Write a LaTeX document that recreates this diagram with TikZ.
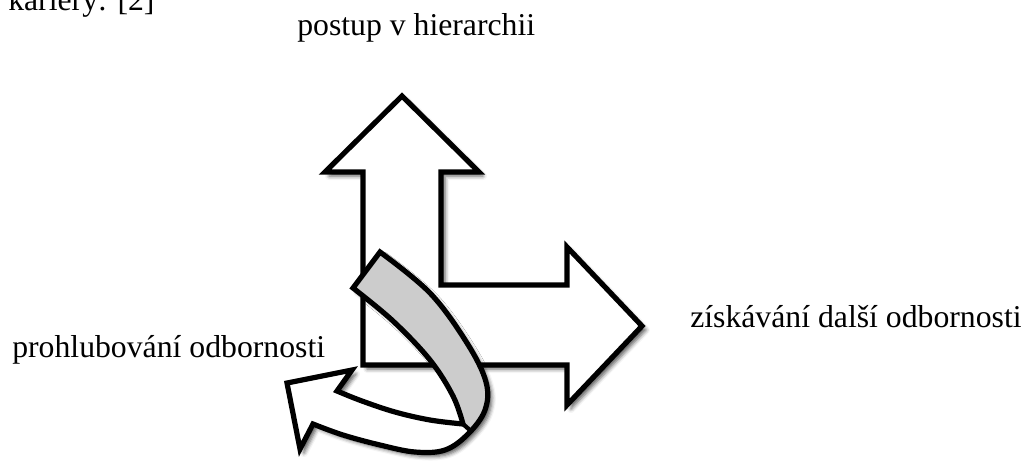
\documentclass[tikz,border=0pt]{standalone}
\usepackage{fontspec}
\setmainfont{Liberation Serif}
\usetikzlibrary{shadows.blur}
\definecolor{bandgray}{HTML}{CCCCCC}
\tikzset{
  shapeline/.style={draw=black, line width=3.9pt, line join=miter, miter limit=10},
  shadowed/.style={blur shadow={shadow xshift=3pt, shadow yshift=-3pt, shadow blur radius=3pt, shadow opacity=65}},
  lbl/.style={inner sep=0pt, anchor=base west, font=\fontsize{23.8}{28}\selectfont},
}
\begin{document}
\begin{tikzpicture}[x=0.75pt,y=-0.75pt]
\useasboundingbox (0,0) rectangle (1027,461);
\clip (0,0) rectangle (1027,461);
% text
\node[lbl] (top) at (8,10) {kariéry: [2]};
\node[lbl] (up) at (297,35) {postup v hierarchii};
\node[lbl] (right) at (690,327) {získávání další odbornosti};
\node[lbl] (deep) at (12,357) {prohlubování odbornosti};
% L-shaped double arrow
\path[shadowed, fill=white] (363,365) -- (363,172) -- (325,172) -- (402,96) -- (479,172) -- (441,172) -- (441,285) -- (567,285) -- (567,247) -- (642,326) -- (567,405) -- (567,365) -- cycle;
\draw[shapeline, fill=white] (363,365) -- (363,172) -- (325,172) -- (402,96) -- (479,172) -- (441,172) -- (441,285) -- (567,285) -- (567,247) -- (642,326) -- (567,405) -- (567,365) -- cycle;
% curved ribbon arrow
\def\ribbon{(380,252) -- plot[smooth, tension=0.6] coordinates {(380,252) (430,293) (467,343) (486,382) (485,410) (468,434) (445,450) (415,452) (380,445) (343,435) (313,424)} -- (300,449) -- (287,383) -- (352,370) -- (337,391) -- plot[smooth, tension=0.6] coordinates {(337,391) (362,401) (395,412) (430,420) (463,424)} -- plot[smooth, tension=0.6] coordinates {(463,424) (453,396) (430,360) (393,321) (353,288)} -- cycle}
\path[shadowed, fill=white] \ribbon;
\begin{scope}
  \clip (463,424) -- (472,431) -- (560,431) -- (560,230) -- (340,230) -- (340,290) -- cycle;
  \fill[bandgray] \ribbon;
\end{scope}
\draw[shapeline, miter limit=4] \ribbon;
\draw[line width=3.2pt] (463,424) -- (472,432);
\end{tikzpicture}
\end{document}
